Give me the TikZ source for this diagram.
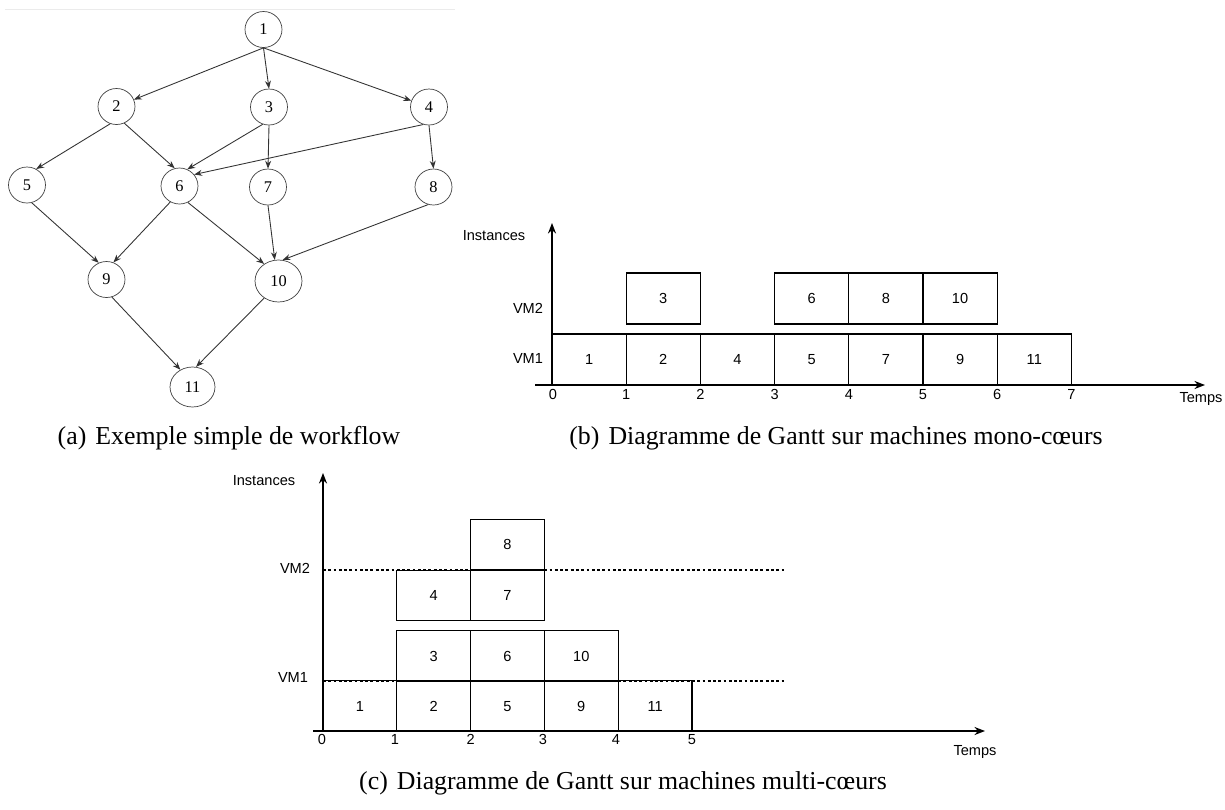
\documentclass[tikz,border=0pt]{standalone}
\usepackage{fontspec}
\setmainfont{Liberation Serif}
\setsansfont{Liberation Sans}
\usetikzlibrary{arrows.meta,shapes.geometric}

\begin{document}
\begin{tikzpicture}[
    x=0.02cm, y=-0.02cm,
    vertex/.style={draw=black!75, ellipse, minimum width=0.74cm, minimum height=0.72cm, inner sep=0pt, font=\fontsize{9.3}{10}\selectfont},
    link/.style={-{Stealth[length=4.5pt,width=3.4pt]}, draw=black!80, line width=0.5pt},
    task/.style={draw, line width=0.6pt, inner sep=0pt, text height=6pt, text depth=0pt, font=\sffamily\fontsize{8.3}{10}\selectfont},
    taskb/.style={task, minimum width=1.484cm, minimum height=1.02cm},
    taskc/.style={task, minimum width=1.476cm, minimum height=1.01cm},
    axisline/.style={-{Stealth[length=6pt,width=4.6pt]}, line width=0.7pt},
    guide/.style={dash pattern=on 1.6pt off 1.4pt, line width=0.6pt},
    lbl/.style={font=\sffamily\fontsize{8.3}{10}\selectfont, inner sep=0pt, text height=6pt, text depth=0pt},
    subcap/.style={font=\fontsize{14.7}{17}\selectfont, inner sep=0pt}
]
\useasboundingbox (0,0) rectangle (1225,809);

% ---- (a) workflow ----
\draw[black!8] (5,9) -- (455,9);
\node[vertex] (a1) at (263.5,29.5) {1};
\node[vertex] (a2) at (116.5,106.5) {2};
\node[vertex] (a3) at (269,107) {3};
\node[vertex] (a4) at (429,107) {4};
\node[vertex] (a5) at (27,185) {5};
\node[vertex] (a6) at (179.5,186) {6};
\node[vertex] (a7) at (268,187) {7};
\node[vertex] (a8) at (433.5,187) {8};
\node[vertex] (a9) at (106.5,279.5) {9};
\node[vertex, minimum width=0.94cm, minimum height=0.84cm] (a10) at (278.5,281) {10};
\node[vertex, minimum width=0.9cm, minimum height=0.8cm] (a11) at (192.5,387) {11};

\draw[link] (a1.south) -- (a2);
\draw[link] (a1.south) -- (a3.north);
\draw[link] (a1.south) -- (a4);
\draw[link] (a2.-110) -- (a5.60);
\draw[link] (a2.-65) -- (a6.105);
\draw[link] (a3.-110) -- (a6.65);
\draw[link] (a3.south) -- (a7.north);
\draw[link] (a4.-108) -- (a6.38);
\draw[link] (a4.south) -- (a8.north);
\draw[link] (a5.-75) -- (a9.115);
\draw[link] (a6.-120) -- (a9.68);
\draw[link] (a6.-63) -- (a10.130);
\draw[link] (a7.south) -- (a10.100);
\draw[link] (a8.-107) -- (a10.79);
\draw[link] (a9.-73) -- (a11.125);
\draw[link] (a10.-130) -- (a11.80);

\node[subcap] (capa) at (229,438) {(a)\hspace{0.35em}Exemple simple de workflow};

% ---- (b) Gantt mono-coeurs ----
\coordinate (bo) at (552,385);
\coordinate (bytop) at (552,223);
\coordinate (bxl) at (535,385);
\coordinate (bxr) at (1205,385);

\node[taskb] (bt1) at (589.1,359.5) {1};
\node[taskb] (bt2) at (663.3,359.5) {2};
\node[taskb] (bt4) at (737.5,359.5) {4};
\node[taskb] (bt5) at (811.7,359.5) {5};
\node[taskb] (bt7) at (885.9,359.5) {7};
\node[taskb] (bt9) at (960.1,359.5) {9};
\node[taskb] (bt11) at (1034.3,359.5) {11};
\node[taskb] (bt3) at (663.3,298.5) {3};
\node[taskb] (bt6) at (811.7,298.5) {6};
\node[taskb] (bt8) at (885.9,298.5) {8};
\node[taskb] (bt10) at (960.1,298.5) {10};

\draw[axisline] (bo) -- (bytop);
\draw[axisline] (bxl) -- (bxr);

\node[lbl] (binst) at (494,235) {Instances};
\node[lbl] (bvm2) at (528,308.5) {VM2};
\node[lbl] (bvm1) at (528,358.5) {VM1};
\node[lbl] (btemps) at (1201,397) {Temps};
\node[lbl] (bk0) at (553,394) {0};
\node[lbl] (bk1) at (626.2,394) {1};
\node[lbl] (bk2) at (700.4,394) {2};
\node[lbl] (bk3) at (774.6,394) {3};
\node[lbl] (bk4) at (848.8,394) {4};
\node[lbl] (bk5) at (923,394) {5};
\node[lbl] (bk6) at (997.2,394) {6};
\node[lbl] (bk7) at (1071.4,394) {7};

\node[subcap] (capb) at (836,438) {(b)\hspace{0.35em}Diagramme de Gantt sur machines mono-cœurs};

% ---- (c) Gantt multi-coeurs ----
\coordinate (co) at (323,731);
\coordinate (cytop) at (323,473);
\coordinate (cxl) at (313,731);
\coordinate (cxr) at (985,731);
\coordinate (cv2l) at (323,570);
\coordinate (cv2r) at (784,570);
\coordinate (cv1l) at (323,681);
\coordinate (cv1r) at (784,681);

\draw[guide] (cv2l) -- (cv2r);
\draw[guide] (cv1l) -- (cv1r);

\node[taskc] (ct1) at (359.9,706) {1};
\node[taskc] (ct2) at (433.7,706) {2};
\node[taskc] (ct5) at (507.5,706) {5};
\node[taskc] (ct9) at (581.3,706) {9};
\node[taskc] (ct11) at (655.1,706) {11};
\node[taskc] (ct3) at (433.7,656) {3};
\node[taskc] (ct6) at (507.5,656) {6};
\node[taskc] (ct10) at (581.3,656) {10};
\node[taskc] (ct4) at (433.7,595.5) {4};
\node[taskc] (ct7) at (507.5,595.5) {7};
\node[taskc] (ct8) at (507.5,544.5) {8};

\draw[axisline] (co) -- (cytop);
\draw[axisline] (cxl) -- (cxr);

\node[lbl] (cinst) at (264,480) {Instances};
\node[lbl] (cvm2) at (295,568) {VM2};
\node[lbl] (cvm1) at (293,677) {VM1};
\node[lbl] (ctemps) at (975,750) {Temps};
\node[lbl] (ck0) at (322,739) {0};
\node[lbl] (ck1) at (395,739) {1};
\node[lbl] (ck2) at (470.6,739) {2};
\node[lbl] (ck3) at (543,739) {3};
\node[lbl] (ck4) at (616,739) {4};
\node[lbl] (ck5) at (692,739) {5};

\node[subcap] (capc) at (623,783) {(c)\hspace{0.35em}Diagramme de Gantt sur machines multi-cœurs};

\end{tikzpicture}
\end{document}
